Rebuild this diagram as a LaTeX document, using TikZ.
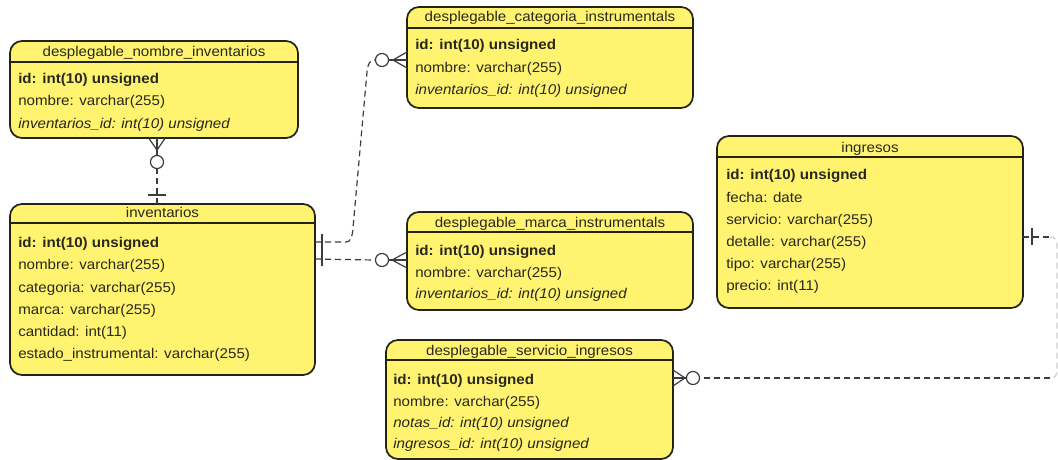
\documentclass[tikz,border=0pt]{standalone}
\usepackage{fontspec}
\setmainfont[FakeStretch=1.07]{Liberation Sans}
\definecolor{tyellow}{RGB}{255,243,112}
\definecolor{tborder}{RGB}{35,35,20}
\definecolor{ttext}{RGB}{40,40,30}
\definecolor{lgray}{RGB}{60,60,60}
\tikzset{
  tbl/.style={draw=tborder, fill=tyellow, line width=1.3pt, rounded corners=9pt, inner sep=0pt, outer sep=0pt},
  hdr/.style={draw=tborder, line width=1pt},
  ttl/.style={text=ttext, font=\fontsize{10.6}{12}\selectfont, inner sep=0pt},
  row/.style={text=ttext, font=\fontsize{10.6}{12}\selectfont, inner sep=0pt, anchor=base west},
  conn/.style={draw=lgray, line width=0.9pt, dash pattern=on 4.5pt off 3pt},
  endmark/.style={draw=lgray, line width=0.9pt},
  circ/.style={circle, draw=lgray, line width=0.9pt, fill=white, minimum size=9.8pt, inner sep=0pt},
}
\newcommand\ertable[8]{%
  \node[tbl, anchor=north west, minimum width={(#4-#2)*0.75pt}, minimum height={(#5-#3)*0.75pt}] (#1) at (#2,#3) {};
  \draw[hdr] (#2,#6) -- (#4,#6);
  \node[ttl, anchor=base] (#1-t) at ({(#2+#4)/2},#7) {#8};
}
\begin{document}
\begin{tikzpicture}[x=0.75pt, y=-0.75pt]
\fill[white] (0,0) rectangle (1058,460);
\useasboundingbox (0,0) rectangle (1058,460);

% desplegable_nombre_inventarios
\ertable{t1}{10}{41}{298}{138}{62}{57}{desplegable\_nombre\_inventarios}
\node[row] (t1-1) at (18,84) {\textbf{id: int(10) unsigned}};
\node[row] (t1-2) at (18,106) {nombre: varchar(255)};
\node[row] (t1-3) at (18,128) {\itshape inventarios\_id: int(10) unsigned};

% inventarios
\ertable{t2}{10}{204}{315}{375}{223}{218}{inventarios}
\node[row] (t2-1) at (18,247) {\textbf{id: int(10) unsigned}};
\node[row] (t2-2) at (18,269) {nombre: varchar(255)};
\node[row] (t2-3) at (18,292) {categoria: varchar(255)};
\node[row] (t2-4) at (18,314) {marca: varchar(255)};
\node[row] (t2-5) at (18,336) {cantidad: int(11)};
\node[row] (t2-6) at (18,358) {estado\_instrumental: varchar(255)};

% desplegable_categoria_instrumentals
\ertable{t3}{407}{7}{693}{108}{28}{22}{desplegable\_categoria\_instrumentals}
\node[row] (t3-1) at (415,50) {\textbf{id: int(10) unsigned}};
\node[row] (t3-2) at (415,73) {nombre: varchar(255)};
\node[row] (t3-3) at (415,95) {\itshape inventarios\_id: int(10) unsigned};

% desplegable_marca_instrumentals
\ertable{t4}{407}{212}{693}{310}{232}{227}{desplegable\_marca\_instrumentals}
\node[row] (t4-1) at (415,255) {\textbf{id: int(10) unsigned}};
\node[row] (t4-2) at (415,277) {nombre: varchar(255)};
\node[row] (t4-3) at (415,298) {\itshape inventarios\_id: int(10) unsigned};

% desplegable_servicio_ingresos
\ertable{t5}{386}{340}{673}{459}{360}{355}{desplegable\_servicio\_ingresos}
\node[row] (t5-1) at (393,384) {\textbf{id: int(10) unsigned}};
\node[row] (t5-2) at (393,406) {nombre: varchar(255)};
\node[row] (t5-3) at (393,427) {\itshape notas\_id: int(10) unsigned};
\node[row] (t5-4) at (393,448) {\itshape ingresos\_id: int(10) unsigned};

% ingresos
\ertable{t6}{717}{136}{1023}{308}{157}{152}{ingresos}
\node[row] (t6-1) at (726,180) {\textbf{id: int(10) unsigned}};
\node[row] (t6-2) at (726,202) {fecha: date};
\node[row] (t6-3) at (726,224) {servicio: varchar(255)};
\node[row] (t6-4) at (726,246) {detalle: varchar(255)};
\node[row] (t6-5) at (726,268) {tipo: varchar(255)};
\node[row] (t6-6) at (726,290) {precio: int(11)};

% helper coordinates
\coordinate (x157) at (157,0);
\coordinate (y242) at (0,242);
\coordinate (y259) at (0,259);
\coordinate (y237) at (0,237);
\coordinate (y60) at (0,60);
\coordinate (y260) at (0,260);
\coordinate (y378) at (0,378);

% inventarios -> desplegable_nombre_inventarios
\node[circ] (o1) at (157,162) {};
\draw[conn] (x157 |- t2.north) -- (o1.south);
\draw[endmark] (x157 |- t2.north) -- (157,198);
\draw[endmark] (o1.north) -- (x157 |- t1.south);
\draw[endmark] (148,195) -- (166,195);
\draw[endmark] (157,150) -- (149,138.5);
\draw[endmark] (157,150) -- (165,138.5);

% inventarios -> desplegable_categoria_instrumentals
\node[circ] (o2) at (382,60) {};
\draw[conn] (t2.east |- y242) -- (345,242) .. controls (352,242) and (352,236) .. (353,228) -- (367,72) .. controls (368,63) and (370,60) .. (o2.west);
\draw[endmark] (322,234) -- (322,250);
\draw[endmark] (o2.east) -- (t3.west |- y60);
\draw[endmark] (393,60) -- (407,52);
\draw[endmark] (393,60) -- (407,68);

% inventarios -> desplegable_marca_instrumentals
\node[circ] (o3) at (382,260) {};
\draw[conn] (t2.east |- y259) -- (o3.west);
\draw[endmark] (322,250) -- (322,266);
\draw[endmark] (o3.east) -- (t4.west |- y260);
\draw[endmark] (392,260) -- (407,252);
\draw[endmark] (392,260) -- (407,268);

% ingresos -> desplegable_servicio_ingresos
\node[circ] (o4) at (693,378) {};
\draw[conn] (t6.east |- y237) -- (1050,237);
\draw[conn, draw=lgray!25] (1050,237) .. controls (1056,237) and (1057,240) .. (1057,246) -- (1057,370) .. controls (1057,376) and (1055,378) .. (1050,378);
\draw[conn] (1050,378) -- (o4.east);
\draw[endmark] (1032,228) -- (1032,245);
\draw[endmark] (o4.west) -- (t5.east |- y378);
\draw[endmark] (685,378) -- (673,370);
\draw[endmark] (685,378) -- (673,386);
\end{tikzpicture}
\end{document}
